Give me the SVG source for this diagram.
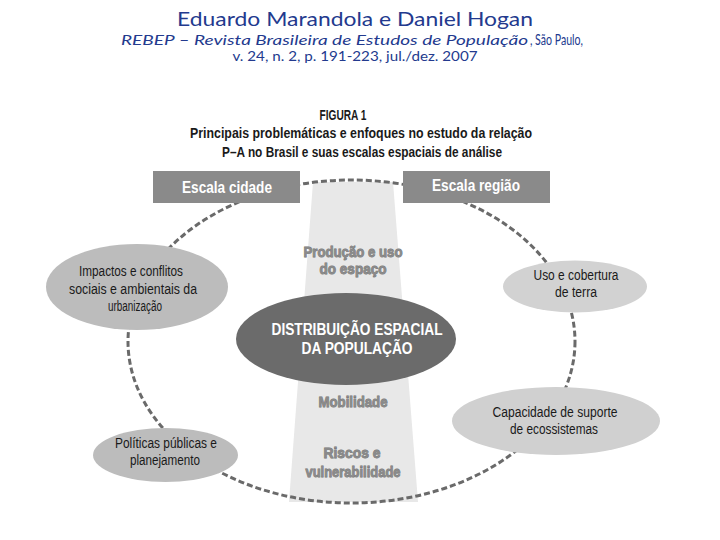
<svg xmlns="http://www.w3.org/2000/svg" width="720" height="540" viewBox="0 0 720 540">
<style>
.hdr{font-family:Lato,"Open Sans",sans-serif;fill:#233a8e}
.fig{font-family:"Liberation Sans",Arial,sans-serif;font-weight:bold;fill:#1a1a1a;text-anchor:middle}
.box{fill:#8a8a8a}
.boxt{font-family:"Liberation Sans",Arial,sans-serif;font-weight:bold;font-size:16px;fill:#ffffff;text-anchor:middle}
.nt{font-family:"Liberation Sans",Arial,sans-serif;font-size:14px;fill:#1a1a1a;text-anchor:middle}
.ct{font-family:"Liberation Sans",Arial,sans-serif;font-weight:bold;font-size:15px;fill:#8a8a8a;stroke:#707070;stroke-width:0.8;paint-order:stroke;text-anchor:middle}
.dash{fill:none;stroke:#6a6a6a;stroke-width:3;stroke-dasharray:6 3}
</style>
<rect width="720" height="540" fill="#ffffff"/>
<g id="header">
<text class="hdr" x="355" y="26" font-size="20" text-anchor="middle" textLength="356" lengthAdjust="spacingAndGlyphs">Eduardo Marandola e Daniel Hogan</text>
<text class="hdr" x="121" y="45" font-size="14" font-style="italic" textLength="407" lengthAdjust="spacingAndGlyphs">REBEP – Revista Brasileira de Estudos  de População</text>
<text class="hdr" x="530" y="45" font-size="15" textLength="53" lengthAdjust="spacingAndGlyphs">, São Paulo,</text>
<text class="hdr" x="355" y="61" font-size="14" text-anchor="middle" textLength="245" lengthAdjust="spacingAndGlyphs">v. 24, n. 2, p. 191-223, jul./dez. 2007</text>
</g>
<g id="figure-title">
<text class="fig" x="343" y="120" font-size="15" textLength="47" lengthAdjust="spacingAndGlyphs">FIGURA 1</text>
<text class="fig" x="361" y="138" font-size="14" textLength="342" lengthAdjust="spacingAndGlyphs">Principais problemáticas e enfoques no estudo da relação</text>
<text class="fig" x="362" y="157" font-size="14" textLength="280" lengthAdjust="spacingAndGlyphs">P–A no Brasil e suas escalas espaciais de análise</text>
</g>
<g id="column">
<polygon points="313,182 393,182 418,502 289,502" fill="#e8e8e8"/>
</g>
<g id="connectors">
<ellipse class="dash" cx="351.5" cy="341.5" rx="223.5" ry="161.5"/>
</g>
<g id="escala-cidade">
<rect class="box" x="153" y="171" width="147" height="32"/>
<text class="boxt" x="227" y="193" textLength="90" lengthAdjust="spacingAndGlyphs">Escala cidade</text>
</g>
<g id="escala-regiao">
<rect class="box" x="403" y="171" width="147" height="32"/>
<text class="boxt" x="476" y="191" textLength="88" lengthAdjust="spacingAndGlyphs">Escala região</text>
</g>
<g id="producao">
<text class="ct" x="353" y="257" textLength="99" lengthAdjust="spacingAndGlyphs">Produção e uso</text>
<text class="ct" x="353" y="274" textLength="67" lengthAdjust="spacingAndGlyphs">do espaço</text>
</g>
<g id="mobilidade">
<text class="ct" x="353" y="407" textLength="69" lengthAdjust="spacingAndGlyphs">Mobilidade</text>
</g>
<g id="riscos">
<text class="ct" x="352" y="458" textLength="57" lengthAdjust="spacingAndGlyphs">Riscos e</text>
<text class="ct" x="353" y="477" textLength="95" lengthAdjust="spacingAndGlyphs">vulnerabilidade</text>
</g>
<g id="distribuicao">
<ellipse cx="346" cy="339" rx="110" ry="46" fill="#6b6b6b"/>
<text x="357" y="335" font-family="Liberation Sans,Arial,sans-serif" font-weight="bold" font-size="16" fill="#ffffff" text-anchor="middle" textLength="171" lengthAdjust="spacingAndGlyphs">DISTRIBUIÇÃO ESPACIAL</text>
<text x="357" y="354" font-family="Liberation Sans,Arial,sans-serif" font-weight="bold" font-size="16" fill="#ffffff" text-anchor="middle" textLength="111" lengthAdjust="spacingAndGlyphs">DA POPULAÇÃO</text>
</g>
<g id="impactos">
<ellipse cx="137" cy="287" rx="91" ry="43" fill="#bcbcbc"/>
<text class="nt" x="131" y="276" textLength="104" lengthAdjust="spacingAndGlyphs">Impactos e conflitos</text>
<text class="nt" x="133" y="294" textLength="128" lengthAdjust="spacingAndGlyphs">sociais e ambientais da</text>
<text class="nt" x="135" y="311" textLength="54" lengthAdjust="spacingAndGlyphs">urbanização</text>
</g>
<g id="uso">
<ellipse cx="575" cy="286.5" rx="72" ry="26" fill="#d2d2d2"/>
<text class="nt" x="576" y="280" textLength="85" lengthAdjust="spacingAndGlyphs">Uso e cobertura</text>
<text class="nt" x="576" y="297" textLength="42" lengthAdjust="spacingAndGlyphs">de terra</text>
</g>
<g id="capacidade">
<ellipse cx="556" cy="421" rx="104" ry="34" fill="#d0d0d0"/>
<text class="nt" x="555" y="417" textLength="125" lengthAdjust="spacingAndGlyphs">Capacidade de suporte</text>
<text class="nt" x="554" y="434" textLength="88" lengthAdjust="spacingAndGlyphs">de ecossistemas</text>
</g>
<g id="politicas">
<ellipse cx="165.5" cy="455" rx="72.5" ry="27" fill="#bcbcbc"/>
<text class="nt" x="166" y="448" textLength="102" lengthAdjust="spacingAndGlyphs">Políticas públicas e</text>
<text class="nt" x="165" y="465" textLength="70" lengthAdjust="spacingAndGlyphs">planejamento</text>
</g>
</svg>
